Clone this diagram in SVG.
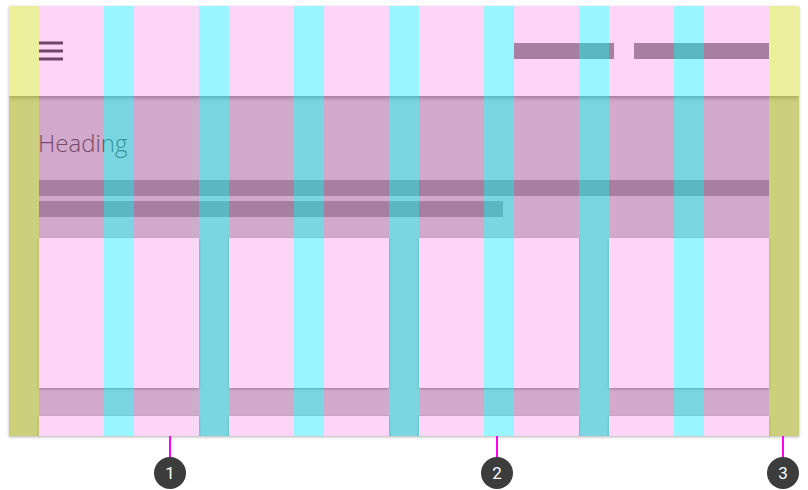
<svg xmlns="http://www.w3.org/2000/svg" width="808" height="490" viewBox="0 0 808 490">
  <defs>
    <filter id="frameShadow" x="-5%" y="-5%" width="110%" height="110%">
      <feDropShadow dx="0" dy="1" stdDeviation="1.5" flood-color="#000" flood-opacity="0.3"/>
    </filter>
    <filter id="cardShadow" x="-10%" y="-10%" width="120%" height="130%">
      <feDropShadow dx="0" dy="1" stdDeviation="1.5" flood-color="#000" flood-opacity="0.3"/>
    </filter>
    <filter id="barShadow" x="-5%" y="-10%" width="110%" height="130%">
      <feDropShadow dx="0" dy="2" stdDeviation="2" flood-color="#000" flood-opacity="0.3"/>
    </filter>
    <clipPath id="frameClip">
      <rect x="9" y="6" width="790" height="430"/>
    </clipPath>
  </defs>
  <style>
    .bg { fill: #cbcbcb; }
    .card { fill: #ffffff; }
    .ph { fill: #989898; }
    .icon { fill: #555555; }
    .margin { fill: rgb(205,212,3); fill-opacity: 0.4; }
    .col { fill: rgb(245,0,200); fill-opacity: 0.165; }
    .gut { fill: rgb(0,229,255); fill-opacity: 0.4; }
    .heading { font-family: "Open Sans", "Liberation Sans", sans-serif; font-weight: 300; font-size: 24px; fill: #5c5c5c; }
    .lead { stroke: #ff00ee; stroke-width: 2; fill: none; }
    .badge { fill: #3c3c3c; }
    .num { font-family: Roboto, "Liberation Sans", sans-serif; font-size: 17px; fill: #ffffff; text-anchor: middle; }
  </style>

  <g id="frame">
    <rect class="bg" x="9" y="6" width="790" height="430" filter="url(#frameShadow)"/>
    <g clip-path="url(#frameClip)">
      <g id="cards" filter="url(#cardShadow)">
        <rect class="card" x="39" y="238" width="160" height="150"/>
        <rect class="card" x="229" y="238" width="160" height="150"/>
        <rect class="card" x="419" y="238" width="160" height="150"/>
        <rect class="card" x="609" y="238" width="160" height="150"/>
        <rect class="card" x="39" y="416" width="160" height="40"/>
        <rect class="card" x="229" y="416" width="160" height="40"/>
        <rect class="card" x="419" y="416" width="160" height="40"/>
        <rect class="card" x="609" y="416" width="160" height="40"/>
      </g>
      <g id="header-content">
        <text class="heading" x="38" y="152">Heading</text>
        <rect class="ph" x="39" y="180" width="730" height="16"/>
        <rect class="ph" x="39" y="201" width="464" height="16"/>
      </g>
      <g id="app-bar">
        <rect class="card" x="9" y="6" width="790" height="90" filter="url(#barShadow)"/>
        <rect class="icon" x="39" y="41.5" width="24" height="3"/>
        <rect class="icon" x="39" y="49.5" width="24" height="3"/>
        <rect class="icon" x="39" y="57.5" width="24" height="3"/>
        <rect class="ph" x="514" y="43" width="100" height="16"/>
        <rect class="ph" x="634" y="43" width="135" height="16"/>
      </g>
      <g id="grid-overlay">
        <rect class="margin" x="9" y="6" width="30" height="430"/>
        <rect class="margin" x="769" y="6" width="30" height="430"/>
        <rect class="col" x="39" y="6" width="65" height="430"/>
        <rect class="col" x="134" y="6" width="65" height="430"/>
        <rect class="col" x="229" y="6" width="65" height="430"/>
        <rect class="col" x="324" y="6" width="65" height="430"/>
        <rect class="col" x="419" y="6" width="65" height="430"/>
        <rect class="col" x="514" y="6" width="65" height="430"/>
        <rect class="col" x="609" y="6" width="65" height="430"/>
        <rect class="col" x="704" y="6" width="65" height="430"/>
        <rect class="gut" x="104" y="6" width="30" height="430"/>
        <rect class="gut" x="199" y="6" width="30" height="430"/>
        <rect class="gut" x="294" y="6" width="30" height="430"/>
        <rect class="gut" x="389" y="6" width="30" height="430"/>
        <rect class="gut" x="484" y="6" width="30" height="430"/>
        <rect class="gut" x="579" y="6" width="30" height="430"/>
        <rect class="gut" x="674" y="6" width="30" height="430"/>
      </g>
    </g>
  </g>

  <g id="connectors">
    <line class="lead" x1="170" y1="436" x2="170" y2="458"/>
    <line class="lead" x1="497" y1="436" x2="497" y2="458"/>
    <line class="lead" x1="783" y1="436" x2="783" y2="458"/>
  </g>

  <g id="callout-1">
    <circle class="badge" cx="170" cy="473" r="16"/>
    <text class="num" x="170" y="479">1</text>
  </g>
  <g id="callout-2">
    <circle class="badge" cx="497" cy="473" r="16"/>
    <text class="num" x="497" y="479">2</text>
  </g>
  <g id="callout-3">
    <circle class="badge" cx="783" cy="473" r="16"/>
    <text class="num" x="783" y="479">3</text>
  </g>
</svg>
